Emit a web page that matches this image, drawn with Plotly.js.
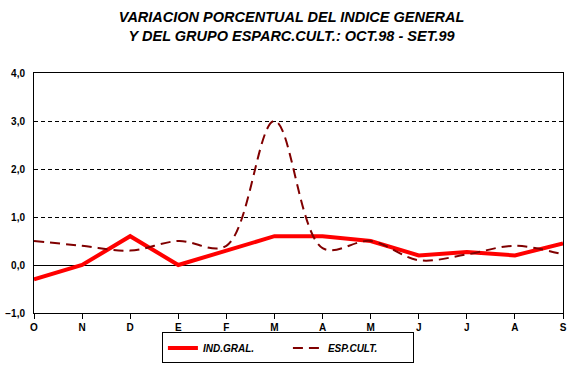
<!DOCTYPE html>
<html><head><meta charset="utf-8">
<script src="https://cdn.plot.ly/plotly-3.0.1.min.js"></script>
<style>html,body{margin:0;padding:0;background:#fff}#c{width:574px;height:370px}</style>
</head><body><div id="c"></div>
<script>
var months = ["O","N","D","E","F","M","A","M","J","J","A","S"];
var indGral = [-0.3, 0.0, 0.6, 0.0, 0.3, 0.6, 0.6, 0.5, 0.2, 0.27, 0.2, 0.45];
var espCult = [0.5, 0.4, 0.3, 0.5, 0.4, 3.0, 0.35, 0.5, 0.1, 0.22, 0.4, 0.22];
var yTicks = [-1, 0, 1, 2, 3, 4];

var xs = months.map(function(m, i){ return i; });
var font = "Liberation Sans, Arial, sans-serif";

var traces = [
  {x: xs, y: indGral, name: "<i>IND.GRAL.</i>", type: "scatter", mode: "lines",
   line: {color: "#FF0000", width: 4}},
  {x: xs, y: espCult, name: "<i>ESP.CULT.</i>", type: "scatter", mode: "lines",
   line: {color: "#800000", width: 2, dash: "10px,6px", shape: "spline", smoothing: 1}}
];

var layout = {
  width: 574, height: 370,
  margin: {l: 34, r: 11, t: 73, b: 57},
  paper_bgcolor: "#fff", plot_bgcolor: "#fff",
  separators: ",.",
  font: {family: font, color: "#000"},
  title: {text: "<b><i>VARIACION PORCENTUAL DEL INDICE GENERAL<br>Y DEL GRUPO ESPARC.CULT.: OCT.98 - SET.99</i></b>",
          font: {size: 14.5, family: font, color: "#000"}, x: 0.508, xanchor: "center", yref: "container", y: 0.94, yanchor: "middle"},
  xaxis: {range: [0, 11], tickvals: xs, ticktext: months,
          showgrid: false, zeroline: false, showline: true, linecolor: "#000", linewidth: 1, mirror: true,
          ticks: "outside", ticklen: 5, tickcolor: "#000", tickfont: {size: 10, family: font, weight: "bold"}},
  yaxis: {range: [-1, 4], tickvals: yTicks, tickformat: ".1f", showgrid: true, gridcolor: "#000",
          griddash: "4px,3px", gridwidth: 1, zeroline: true, zerolinecolor: "#000", zerolinewidth: 1,
          showline: true, linecolor: "#000", linewidth: 1, mirror: true, ticks: "", ticklen: 0,
          tickfont: {size: 10, family: font, weight: "bold"}, ticklabelstandoff: 6},
  showlegend: true,
  legend: {orientation: "h", x: 0.48, xanchor: "center", yref: "container", y: 0.1014, yanchor: "top",
           bordercolor: "#000", borderwidth: 1, font: {size: 10, family: font, color: "#000", weight: "bold"},
           entrywidth: 80, entrywidthmode: "pixels"}
};
Plotly.newPlot("c", traces, layout, {displayModeBar: false, staticPlot: true});
</script></body></html>
